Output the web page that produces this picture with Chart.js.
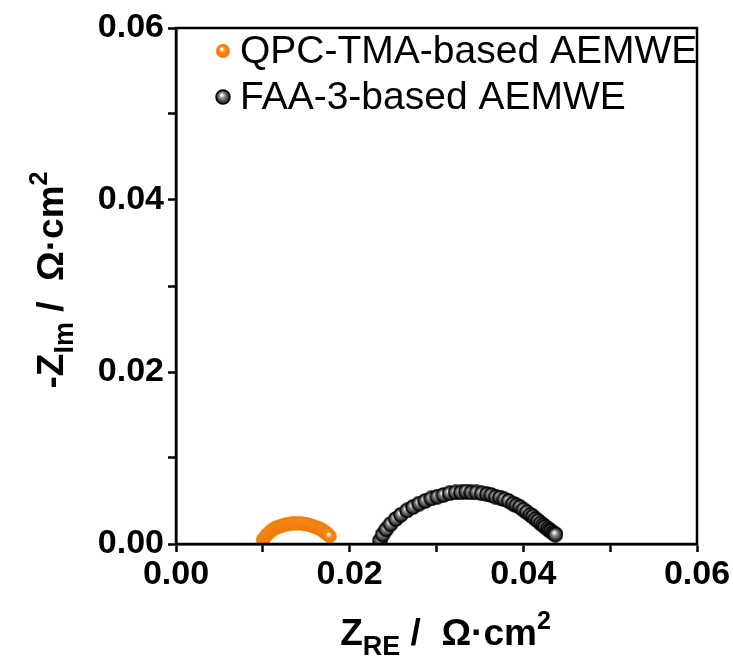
<!DOCTYPE html>
<html>
<head>
<meta charset="utf-8">
<script src="https://cdn.jsdelivr.net/npm/chart.js@4.4.1/dist/chart.umd.min.js"></script>
<style>
  body { margin: 0; background: #fff; }
  #wrap { width: 733px; height: 670px; }
</style>
</head>
<body>
<div id="wrap"><canvas id="nyquist"></canvas></div>
<script>
// Nyquist data (ohm*cm2)
const seriesNames = ["QPC-TMA-based AEMWE", "FAA-3-based AEMWE"];

const qpcRe = [0.0100, 0.0103, 0.0106, 0.0109, 0.0112, 0.0115, 0.0118, 0.0121, 0.0124, 0.0127,
  0.0130, 0.0133, 0.0136, 0.0139, 0.0142, 0.0145, 0.0148, 0.0151, 0.0154, 0.0157,
  0.0160, 0.0163, 0.0165, 0.0167, 0.0169, 0.0171, 0.0173, 0.0175, 0.0177];
const qpcIm = [0.0005, 0.0009, 0.0012, 0.0015, 0.0017, 0.0019, 0.0020, 0.0021, 0.0022, 0.0023,
  0.0023, 0.0024, 0.0024, 0.0024, 0.0024, 0.0024, 0.0023, 0.0023, 0.0022, 0.0021,
  0.0020, 0.0019, 0.0018, 0.0017, 0.0016, 0.0014, 0.0013, 0.0011, 0.0009];

const faaRe = [0.0235, 0.0238, 0.0242, 0.0247, 0.0253, 0.0259, 0.0266, 0.0273, 0.0280, 0.0287,
  0.0294, 0.0301, 0.0308, 0.0315, 0.0322, 0.0328, 0.0334, 0.0340, 0.0346, 0.0352,
  0.0358, 0.0363, 0.0368, 0.0373, 0.0378, 0.0383, 0.0388, 0.0392, 0.0396, 0.0400,
  0.0404, 0.0408, 0.0411, 0.0414, 0.0417, 0.0420, 0.0423, 0.0425, 0.0428, 0.0430,
  0.0432, 0.0434, 0.0436, 0.0437];
const faaIm = [0.0004, 0.0011, 0.0017, 0.0023, 0.0029, 0.0034, 0.0039, 0.0043, 0.0047, 0.0050,
  0.0053, 0.0055, 0.0057, 0.0059, 0.0060, 0.0060, 0.0061, 0.0060, 0.0060, 0.0059,
  0.0058, 0.0057, 0.0055, 0.0054, 0.0052, 0.0050, 0.0047, 0.0045, 0.0043, 0.0040,
  0.0037, 0.0034, 0.0032, 0.0029, 0.0027, 0.0024, 0.0022, 0.0020, 0.0018, 0.0016,
  0.0015, 0.0013, 0.0012, 0.0011];

const axisMin = 0, axisMax = 0.06, tickStep = 0.01;

const FONT = "'Liberation Sans', Arial, sans-serif";

// little shaded balls for the markers
function ball(r, base, dark, outline) {
  const c = document.createElement('canvas');
  const s = r * 2 + 2;
  c.width = s; c.height = s;
  const g = c.getContext('2d');
  const cx = s / 2, cy = s / 2;
  const grad = g.createRadialGradient(cx - r * 0.2, cy - r * 0.3, r * 0.1, cx, cy, r);
  grad.addColorStop(0, '#ffffff');
  grad.addColorStop(0.35, base);
  grad.addColorStop(1, dark);
  g.beginPath();
  g.arc(cx, cy, r, 0, Math.PI * 2);
  g.fillStyle = grad;
  g.fill();
  if (outline) {
    g.lineWidth = 1.5;
    g.strokeStyle = outline;
    g.stroke();
  }
  return c;
}

const orangeBall = ball(7, '#f98c1c', '#ee7a06', null);
const blackBall = ball(7, '#8a8a8a', '#111111', '#000000');

function toPoints(xs, ys) {
  return xs.map((x, i) => ({ x: x, y: ys[i] }));
}

// draws a text made of pieces (sub/superscripts), centered at 0,0 of current transform
function richText(ctx, parts) {
  let w = 0;
  parts.forEach(p => {
    ctx.font = 'bold ' + p.size + 'px ' + FONT;
    p.w = ctx.measureText(p.t).width;
    w += p.w;
  });
  let x = -w / 2;
  ctx.textBaseline = 'alphabetic';
  ctx.textAlign = 'left';
  parts.forEach(p => {
    ctx.font = 'bold ' + p.size + 'px ' + FONT;
    ctx.fillText(p.t, x, p.dy || 0);
    x += p.w;
  });
}

const decorations = {
  id: 'decorations',
  afterDraw(chart) {
    const ctx = chart.ctx;
    const a = chart.chartArea;
    ctx.save();
    // frame
    ctx.strokeStyle = '#000';
    ctx.lineWidth = 2.5;
    ctx.strokeRect(a.left, a.top, a.right - a.left, a.bottom - a.top);

    ctx.fillStyle = '#000';
    // x title
    ctx.save();
    ctx.translate((a.left + a.right) / 2 + 9, 645);
    richText(ctx, [
      { t: 'Z', size: 37 },
      { t: 'RE', size: 27, dy: 10 },
      { t: ' /  \u03A9\u00B7cm', size: 37 },
      { t: '2', size: 25, dy: -16 }
    ]);
    ctx.restore();
    // y title
    ctx.save();
    ctx.translate(63, 280);
    ctx.rotate(-Math.PI / 2);
    richText(ctx, [
      { t: '-Z', size: 37 },
      { t: 'Im', size: 27, dy: 10 },
      { t: ' /  \u03A9\u00B7cm', size: 37 },
      { t: '2', size: 25, dy: -16 }
    ]);
    ctx.restore();

    // legend
    const marks = [orangeBall, blackBall];
    ctx.font = '39px ' + FONT;
    ctx.textBaseline = 'middle';
    ctx.textAlign = 'left';
    seriesNames.forEach((name, i) => {
      const y = 51 + i * 46;
      const m = marks[i];
      ctx.drawImage(m, 223 - m.width / 2, y - m.height / 2);
      ctx.fillText(name, 240, y + 1);
    });
    ctx.restore();
  }
};

function tickLabel(v) {
  const k = Math.round(v / tickStep);
  return k % 2 === 0 ? v.toFixed(2) : '';
}

const axisCommon = {
  type: 'linear',
  min: axisMin,
  max: axisMax,
  ticks: {
    stepSize: tickStep,
    callback: tickLabel,
    color: '#000',
    font: { family: FONT, size: 34, weight: 'bold' },
    autoSkip: false,
    maxRotation: 0
  },
  grid: {
    drawOnChartArea: false,
    drawTicks: true,
    tickLength: 8,
    tickWidth: 2.5,
    tickColor: '#000'
  },
  border: { display: true, color: '#000', width: 2.5 }
};

new Chart(document.getElementById('nyquist'), {
  type: 'scatter',
  data: {
    datasets: [
      {
        label: seriesNames[0],
        data: toPoints(qpcRe, qpcIm),
        pointStyle: orangeBall,
        pointRadius: 7
      },
      {
        label: seriesNames[1],
        data: toPoints(faaRe, faaIm),
        pointStyle: blackBall,
        pointRadius: 7
      }
    ]
  },
  options: {
    responsive: true,
    maintainAspectRatio: false,
    animation: false,
    layout: { padding: { top: 28, right: 36, left: 0, bottom: 0 } },
    plugins: {
      legend: { display: false },
      tooltip: { enabled: false }
    },
    scales: {
      x: Object.assign({}, axisCommon, {
        ticks: Object.assign({}, axisCommon.ticks, { padding: 2 }),
        afterFit(s) { s.height = 126; }
      }),
      y: Object.assign({}, axisCommon, {
        ticks: Object.assign({}, axisCommon.ticks, { padding: 4 }),
        afterFit(s) { s.width = 176; }
      })
    }
  },
  plugins: [decorations]
});
</script>
</body>
</html>
